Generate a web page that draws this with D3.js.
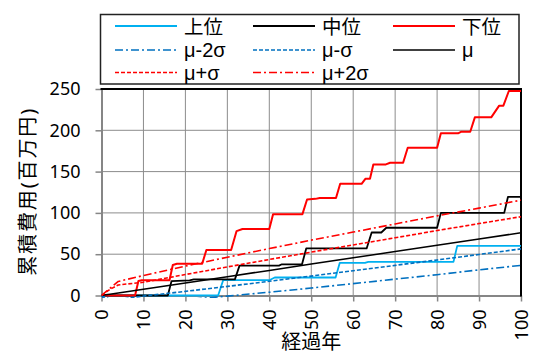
<!DOCTYPE html>
<html>
<head>
<meta charset="utf-8">
<script src="https://cdn.jsdelivr.net/npm/d3@7"></script>
<style>
  html, body { margin: 0; padding: 0; background: #fff; }
  svg { display: block; }
</style>
</head>
<body>
<svg id="chart" width="534" height="354"></svg>
<script>
// Cumulative cost (million yen) over elapsed years

// Simulated paths: [year, cumulative cost]
const upperPath = [ // 上位
  [0,0],[27.8,0],[29,18.5],[40,18.5],[41.3,21.8],[55.8,21.8],[56.8,39.5],
  [62.8,39.5],[63.6,40.7],[83.9,40.7],[84.8,60.1],[100,60.1]
];
const middlePath = [ // 中位
  [0,0],[15.8,0],[16.7,17.5],[21,18.2],[22,19.5],[31.8,19.5],[32.9,36.2],
  [42.3,36.2],[43,37.8],[47.8,37.8],[48.8,57],[63.2,57],[64.4,76.3],
  [66.7,76.3],[67.9,82],[80,82],[80.9,100],[96,100],[96.9,119.5],[100,119.5]
];
const lowerPath = [ // 下位
  [0,0],[8,0],[8.8,17.5],[9.6,18.5],[16.2,18.5],[17,37],[18,38.5],[24,38.5],
  [25,55],[30.9,55],[32.2,78],[33.6,80.5],[40,80.5],[40.9,98.5],[47.9,98.5],
  [49,116.3],[51,117],[52,118],[55.9,118],[56.9,135.2],[62,135.2],[62.9,141.3],
  [64,141.3],[64.8,158.7],[67.8,158.7],[68.8,160.7],[71.9,160.7],[73,178.9],
  [80,178.9],[80.9,196.3],[85,196.3],[85.8,198.3],[87.9,198.3],[89,215.7],
  [92.9,215.7],[94.8,229.8],[95.8,229.8],[97.1,247.6],[100,247.6]
];

// Mean and spread bands, sampled on these years
const bandYears  = [0, 1, 2, 4, 10, 20, 30, 40, 50, 60, 70, 80, 90, 100];
const muMinus2   = [0, -7, -9.5, -11, -9, -5.2, -0.8, 4, 9, 14.4, 19.8, 25.2, 31, 36.5];
const muMinus1   = [0, -2.5, -4.5, -5, -0.7, 5, 11, 17.2, 23.5, 30, 36.5, 43, 49.7, 56.4];
const muValues   = [0, 0.8, 1.5, 3, 7.6, 15.2, 22.8, 30.4, 38, 45.6, 53.2, 60.8, 68.4, 76];
const muPlus1    = [0, 3.7, 7.4, 12.8, 16, 25.4, 34.6, 43.6, 52.5, 61.2, 69.9, 78.6, 87.1, 95.4];
const muPlus2    = [0, 4.3, 8.7, 17, 24.2, 35.6, 46.4, 56.8, 67, 76.8, 86.6, 96.4, 105.8, 115.4];

const xTicks = [0, 10, 20, 30, 40, 50, 60, 70, 80, 90, 100];
const yTicks = [0, 50, 100, 150, 200, 250];

const legendLabels = ["上位", "中位", "下位", "μ-2σ", "μ-σ", "μ", "μ+σ", "μ+2σ"];

const LIGHT_BLUE = "#00b0f0", BLUE = "#0070c0", RED = "#ff0000", BLACK = "#000000";
const DASH = "4,2", DASHDOT = "8,3,2,3";

const zipBand = vals => bandYears.map((y, i) => [y, vals[i]]);

const series = [
  { name: legendLabels[0], data: upperPath,         color: LIGHT_BLUE, width: 1.8, dash: null },
  { name: legendLabels[1], data: middlePath,        color: BLACK,      width: 1.8, dash: null },
  { name: legendLabels[2], data: lowerPath,         color: RED,        width: 2,   dash: null },
  { name: legendLabels[3], data: zipBand(muMinus2), color: BLUE,       width: 1.6, dash: DASHDOT },
  { name: legendLabels[4], data: zipBand(muMinus1), color: BLUE,       width: 1.6, dash: DASH },
  { name: legendLabels[5], data: zipBand(muValues), color: BLACK,      width: 1.5, dash: null },
  { name: legendLabels[6], data: zipBand(muPlus1),  color: RED,        width: 1.6, dash: DASH },
  { name: legendLabels[7], data: zipBand(muPlus2),  color: RED,        width: 1.6, dash: DASHDOT }
];

const svg = d3.select("#chart");
const FONT = "'Noto Sans', 'Noto Sans CJK JP', sans-serif";
const LEGEND_FONT = "'Liberation Sans', 'Noto Sans CJK JP', sans-serif";

const x = d3.scaleLinear().domain([0, 100]).range([101.5, 521]);
const y = d3.scaleLinear().domain([0, 250]).range([295.5, 89]);

// gridlines
const grid = svg.append("g");
grid.selectAll("line.v").data(xTicks.slice(1, -1)).join("line")
  .attr("x1", d => x(d)).attr("x2", d => x(d))
  .attr("y1", y(250)).attr("y2", y(0))
  .attr("stroke", "#8c8c8c").attr("stroke-width", 1);
grid.selectAll("line.h").data(yTicks.slice(1, -1)).join("line")
  .attr("x1", x(0)).attr("x2", x(100))
  .attr("y1", d => y(d)).attr("y2", d => y(d))
  .attr("stroke", "#8c8c8c").attr("stroke-width", 1);

// axes
const yAxis = svg.append("g").attr("transform", `translate(${x(0)},0)`)
  .call(d3.axisLeft(y).tickValues(yTicks).tickSize(6).tickPadding(15).tickSizeOuter(0));
const xAxis = svg.append("g").attr("transform", `translate(0,${y(0)})`)
  .call(d3.axisBottom(x).tickValues(xTicks).tickSize(6).tickPadding(8).tickSizeOuter(0));

[yAxis, xAxis].forEach(g => {
  g.select(".domain").attr("stroke", "#868686").attr("stroke-width", 2);
  g.selectAll(".tick line").attr("stroke", "#868686").attr("stroke-width", 1.5);
  g.selectAll(".tick text").attr("fill", "#000").style("font-family", FONT).style("font-size", "18px");
});
xAxis.selectAll(".tick text")
  .attr("transform", "rotate(-90)")
  .attr("text-anchor", "end")
  .attr("x", -14).attr("y", 0).attr("dy", "0.35em");

// plot area frame: top and right
svg.append("line").attr("x1", x(0) - 1).attr("x2", x(100) + 1)
  .attr("y1", y(250)).attr("y2", y(250)).attr("stroke", "#000").attr("stroke-width", 2);
svg.append("line").attr("x1", x(100)).attr("x2", x(100))
  .attr("y1", y(250)).attr("y2", y(0) + 1).attr("stroke", "#000").attr("stroke-width", 2);

// series, clipped to the plot area
svg.append("clipPath").attr("id", "plotClip").append("rect")
  .attr("x", x(0)).attr("y", y(250)).attr("width", x(100) - x(0)).attr("height", y(0) - y(250) + 2.5);

const line = d3.line().x(d => x(d[0])).y(d => y(d[1]));
svg.append("g").attr("clip-path", "url(#plotClip)")
  .selectAll("path").data(series).join("path")
  .attr("d", d => line(d.data))
  .attr("fill", "none")
  .attr("stroke", d => d.color)
  .attr("stroke-width", d => d.width)
  .attr("stroke-dasharray", d => d.dash)
  .attr("stroke-linejoin", "round");

// axis titles
svg.append("text")
  .attr("x", (x(0) + x(100)) / 2).attr("y", 341.5)
  .attr("text-anchor", "middle").attr("dominant-baseline", "central")
  .style("font-family", FONT).style("font-size", "20px")
  .text("経過年");
svg.append("text")
  .attr("transform", `translate(27,${(y(0) + y(250)) / 2}) rotate(-90)`)
  .attr("text-anchor", "middle").attr("dominant-baseline", "central")
  .attr("textLength", 167).attr("lengthAdjust", "spacing")
  .style("font-family", FONT).style("font-size", "20px")
  .text("累積費用(百万円)");

// legend
const legend = svg.append("g");
legend.append("rect").attr("x", 100.5).attr("y", 14.5).attr("width", 418.5).attr("height", 69.5)
  .attr("fill", "#fff").attr("stroke", "#222").attr("stroke-width", 1.5);
const colX = [115, 253, 393];
const rowY = [26, 50, 72.5];
series.forEach((s, i) => {
  const cx = colX[i % 3], cy = rowY[Math.floor(i / 3)];
  legend.append("line")
    .attr("x1", cx).attr("x2", cx + 62).attr("y1", cy).attr("y2", cy)
    .attr("stroke", s.color).attr("stroke-width", s.width)
    .attr("stroke-dasharray", s.dash);
  legend.append("text")
    .attr("x", cx + 69).attr("y", cy).attr("dominant-baseline", "central")
    .style("font-family", i < 3 ? FONT : LEGEND_FONT)
    .style("font-size", i < 3 ? "19.5px" : "20px")
    .text(s.name);
});
</script>
</body>
</html>
